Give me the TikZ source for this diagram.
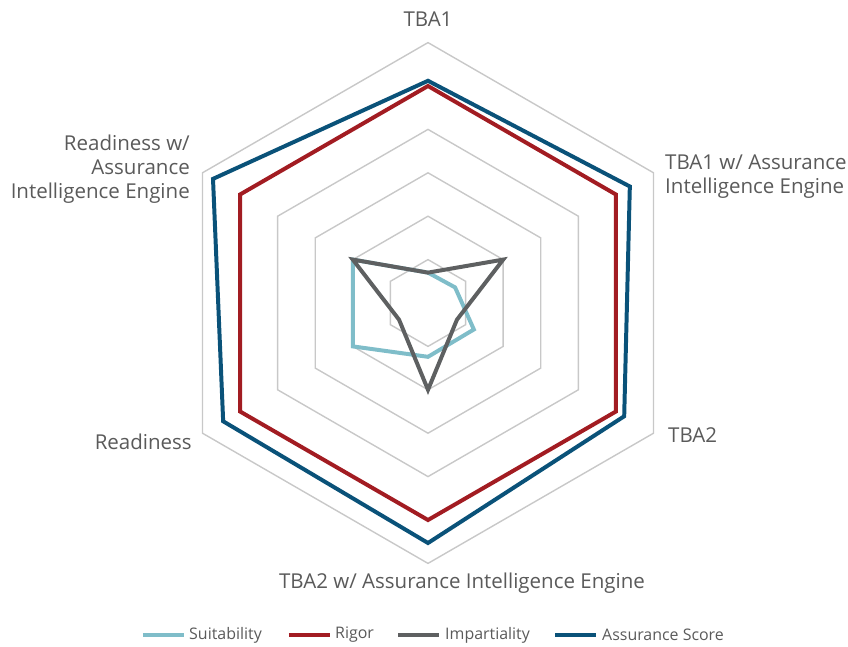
\documentclass[tikz,border=0pt]{standalone}
\usepackage{fontspec}
\setmainfont{Open Sans}
\definecolor{gridgray}{HTML}{C8C8C8}
\definecolor{labelgray}{HTML}{5A5A5A}
\definecolor{suitcol}{HTML}{7FBDC9}
\definecolor{rigorcol}{HTML}{A21C22}
\definecolor{impcol}{HTML}{5E6061}
\definecolor{assurcol}{HTML}{0A5279}
\begin{document}
\begin{tikzpicture}[x=0.03cm,y=0.03cm,
  axislabel/.style={text=labelgray,font=\fontsize{17.5}{20.5}\selectfont,inner sep=0pt},
  legendlabel/.style={text=labelgray,font=\fontsize{13.6}{15}\selectfont,inner sep=0pt,anchor=west},
  series/.style={line width=3.4pt,line join=miter}]
\useasboundingbox (-428,-343) rectangle (420,303);
% grid and series
\begin{scope}[scale=43.4]
\foreach \r in {1,...,6}
  \draw[gridgray,line width=1.2pt] (90:\r) -- (30:\r) -- (-30:\r) -- (-90:\r) -- (-150:\r) -- (150:\r) -- cycle;
\draw[series,suitcol] (90:0.7) -- (30:0.72) -- (-30:1.22) -- (-90:1.24) -- (-150:2) -- (150:2) -- cycle;
\draw[series,rigorcol] (90:5) -- (30:5) -- (-30:5) -- (-90:5) -- (-150:5) -- (150:5) -- cycle;
\draw[series,impcol] (90:0.7) -- (30:2) -- (-30:0.77) -- (-90:2) -- (-150:0.77) -- (150:2) -- cycle;
\draw[series,assurcol] (90:5.12) -- (30:5.37) -- (-30:5.22) -- (-90:5.53) -- (-150:5.45) -- (150:5.72) -- cycle;
\end{scope}
% axis labels
\node[axislabel] (tba1) at (0,284) {TBA1};
\node[axislabel,anchor=west,align=left] (tba1ae) at (237,126) {TBA1 w/ Assurance\\Intelligence Engine};
\node[axislabel,anchor=west] (tba2) at (240,-132) {TBA2};
\node[axislabel] (tba2ae) at (34,-280) {TBA2 w/ Assurance Intelligence Engine};
\node[axislabel,anchor=east] (ready) at (-236,-139) {Readiness};
\node[axislabel,anchor=east,align=right] (readyae) at (-238,134) {Readiness w/\\Assurance\\Intelligence Engine};
% legend
\draw[suitcol,line width=3.4pt] (-285,-332) -- (-244,-332);
\node[legendlabel] (suit) at (-239,-332) {Suitability};
\draw[rigorcol,line width=3.4pt] (-139,-332) -- (-98,-332);
\node[legendlabel] (rigor) at (-93,-332) {Rigor};
\draw[impcol,line width=3.4pt] (-30,-332) -- (11,-332);
\node[legendlabel] (imp) at (17,-332) {Impartiality};
\draw[assurcol,line width=3.4pt] (127,-332) -- (168,-332);
\node[legendlabel] (assur) at (174,-332) {Assurance Score};
\end{tikzpicture}
\end{document}
